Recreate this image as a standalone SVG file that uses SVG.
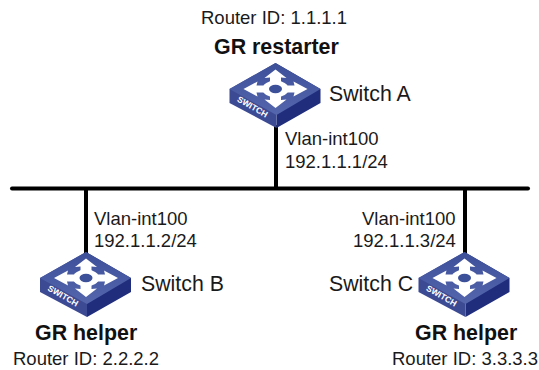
<svg xmlns="http://www.w3.org/2000/svg" width="539" height="370" viewBox="0 0 539 370">
<style>
text{font-family:"Liberation Sans",Arial,sans-serif;font-size:18.5px;fill:#1a1a1a}
.n{font-size:21.3px}
.b{font-weight:bold;font-size:21.4px;fill:#111}
.s{font-weight:bold;font-size:8.5px;fill:#fff}
.l{stroke:#000;stroke-width:4;fill:none}
</style>
<defs>
<linearGradient id="t" x1="0" y1="0" x2="0" y2="1"><stop offset="0" stop-color="#3c4f99"/><stop offset="1" stop-color="#5566ad"/></linearGradient>
<g id="sw">
<path d="M0 0L45 26V40L1 65V52Z" fill="#1f2d7c"/>
<path d="M0 0L-46 26V40L1 65V52Z" fill="#3c4a94"/>
<path d="M0 0L45 26L1 52L-46 26Z" fill="url(#t)"/>
<g fill="#fff">
<path d="M0 6.500L11 15L5.500 14.500V22H-5.500V14.500L-11 15Z"/>
<path d="M0 45L11 36.500L5.500 37V30H-5.500V37L-11 36.500Z"/>
<path d="M-32 26L-18 18.500L-19 22.500H-8V29.500H-19L-18 33.500Z"/>
<path d="M32 26L18 18.500L19 22.500H8V29.500H19L18 33.500Z"/>
<ellipse cx="0" cy="26" rx="13" ry="8.500"/>
</g>
<ellipse cx="0" cy="26" rx="6.500" ry="4.200" fill="#3c4f99"/>
<text class="s" transform="translate(-39 38) rotate(30)">SWITCH</text>
</g>
</defs>
<g id="connectors">
<path class="l" stroke-linecap="round" d="M12 188.500H528"/>
<path class="l" d="M276 125V188M86 188V254M465 188V254"/>
</g>
<g id="switch-a">
<use href="#sw" x="275.500" y="63"/>
<text x="201" y="24">Router ID: 1.1.1.1</text>
<text class="b" x="214" y="54">GR restarter</text>
<text class="n" x="329" y="101">Switch A</text>
<text x="285" y="145">Vlan-int100</text>
<text x="285" y="168">192.1.1.1/24</text>
</g>
<g id="switch-b">
<use href="#sw" x="86" y="252"/>
<text x="94" y="225">Vlan-int100</text>
<text x="94" y="247">192.1.1.2/24</text>
<text class="n" x="141" y="291">Switch B</text>
<text class="b" x="35" y="340">GR helper</text>
<text x="13" y="365">Router ID: 2.2.2.2</text>
</g>
<g id="switch-c">
<use href="#sw" x="464.500" y="252"/>
<text x="362" y="225">Vlan-int100</text>
<text x="353" y="247">192.1.1.3/24</text>
<text class="n" x="329" y="291">Switch C</text>
<text class="b" x="415" y="340">GR helper</text>
<text x="392" y="365">Router ID: 3.3.3.3</text>
</g>
</svg>
